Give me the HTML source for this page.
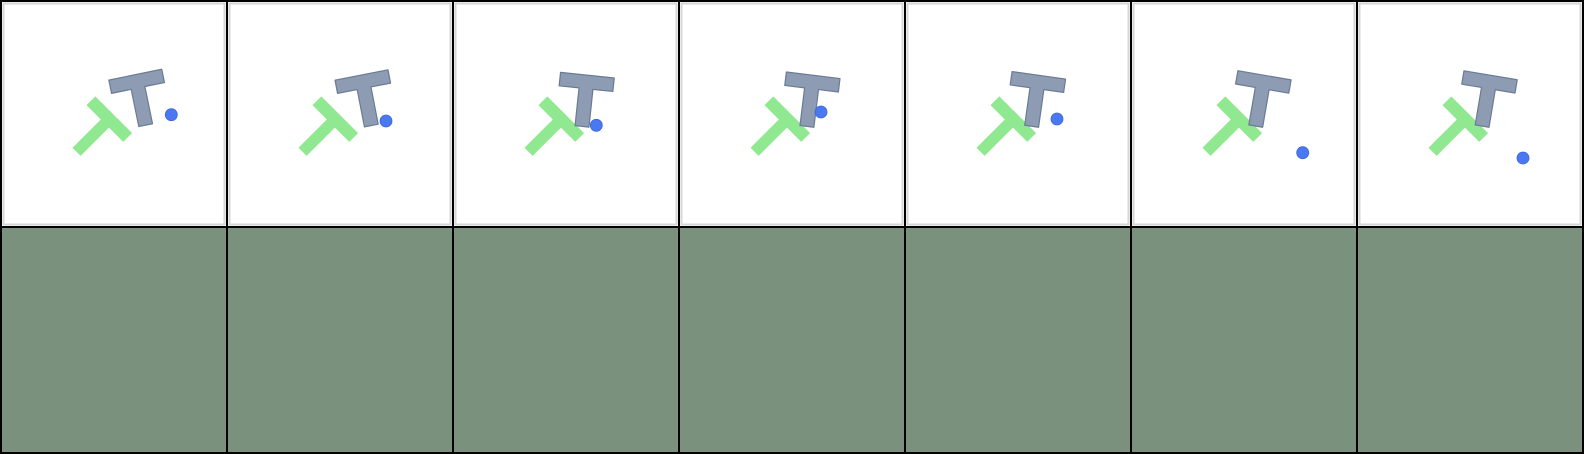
<!DOCTYPE html>
<html><head><meta charset="utf-8"><style>
html,body{margin:0;padding:0;background:#000;}
svg{display:block;}
</style></head><body>
<svg id="grid" width="1584" height="454" viewBox="0 0 1584 454" xmlns="http://www.w3.org/2000/svg">
<defs>
<pattern id="noise" width="4" height="4" patternUnits="userSpaceOnUse">
<rect width="4" height="4" fill="#7a917e"/>
<rect width="1" height="1" fill="#82907e"/><rect x="2" y="2" width="1" height="1" fill="#74927f"/>
</pattern>
</defs>
<rect width="1584" height="454" fill="#000"/>
</svg>
<script>
const frames = [0,1,2,3,4,5,6];
const blockX = [135.3,135.5,135.4,135.2,134.8,134.5,134.6];
const blockY = [74.7,75.0,75.2,75.3,75.3,75.3,75.3];
const blockAngle = [-11.6,-11.0,6,7,8,9.8,9.5];
const agentX = [171.3,160,144.3,143,153,172.7,167];
const agentY = [114.7,121,125.3,112,119,152.7,158];
const NS='http://www.w3.org/2000/svg';
const svg=document.getElementById('grid');
function mk(tag,attrs,parent){const e=document.createElementNS(NS,tag);for(const k in attrs)e.setAttribute(k,attrs[k]);parent.appendChild(e);return e;}
function tShape(g,len,th,sw,sl,fill,stroke){
  const p=`M${-len/2},0 L${len/2},0 L${len/2},${th} L${sw/2},${th} L${sw/2},${th+sl} L${-sw/2},${th+sl} L${-sw/2},${th} L${-len/2},${th} Z`;
  const a={d:p,fill:fill};
  if(stroke){a.stroke=stroke;a['stroke-width']=1.2;a['stroke-linejoin']='round';}
  return mk('path',a,g);
}
frames.forEach((f,i)=>{
  const ox=2+i*226;
  const top=mk('g',{transform:`translate(${ox},2)`},svg);
  
  
  mk('rect',{x:0,y:0,width:224,height:224,fill:'#fff'},top);
  mk('rect',{x:1.5,y:1.5,width:221,height:221,fill:'none',stroke:'#d6d6d6','stroke-width':2},top);
  const goal=mk('g',{transform:'translate(111.7,112.7) rotate(45)'},top);
  
  
  tShape(goal,52,12.5,11.5,40,'#90e890',null);
  const blk=mk('g',{transform:`translate(${blockX[i]-2},${blockY[i]-2}) rotate(${blockAngle[i]})`},top);
  
  
  tShape(blk,54,13.5,14,38,'#8d9cb2','#6a7b94');
  const ag=mk('circle',{cx:agentX[i]-2,cy:agentY[i]-2,r:6,fill:'#4a78f0',stroke:'#3d66d8','stroke-width':0.8},top);
  
  
  const bot=mk('rect',{x:ox,y:228,width:224,height:224,fill:'url(#noise)'},svg);
  
  
});
</script>
</body></html>
